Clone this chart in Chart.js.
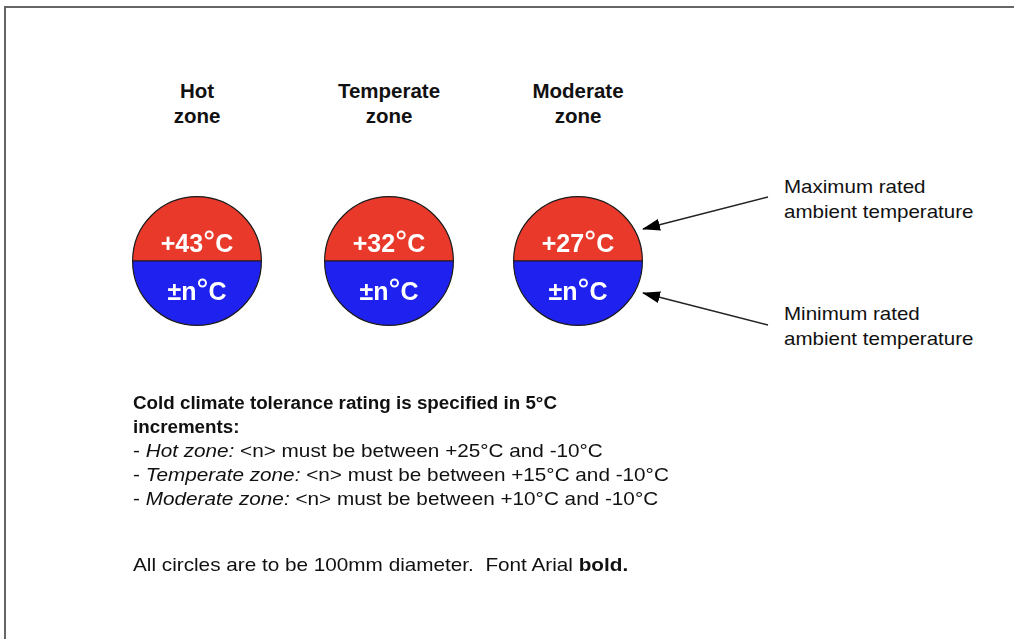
<!DOCTYPE html>
<html>
<head>
<meta charset="utf-8">
<script src="https://cdn.jsdelivr.net/npm/chart.js@4/dist/chart.umd.min.js"></script>
<style>
  html, body { margin: 0; padding: 0; background: #fff; }
  body { width: 1014px; height: 639px; position: relative; overflow: hidden;
         font-family: "Liberation Sans", Arial, sans-serif; color: #111; }
  .frame { position: absolute; left: 4px; top: 6px; width: 1020px; height: 700px;
           border-left: 2px solid #666; border-top: 2px solid #666; }
  .zone { position: absolute; width: 140px; height: 140px; }
  .head { position: absolute; width: 160px; text-align: center; font-weight: bold;
          font-size: 20.5px; line-height: 25px; top: 78px; }
  .side { position: absolute; left: 784px; font-size: 18.5px; line-height: 25px;
          transform: scaleX(1.11); transform-origin: left; }
  .notes { position: absolute; left: 133px; top: 391px; font-size: 18.8px; line-height: 24px; }
  .notes .r { display: inline-block; font-size: 18.5px; transform: scaleX(1.12); transform-origin: left; white-space: nowrap; }
  svg { position: absolute; left: 0; top: 0; }
</style>
</head>
<body>
<div class="frame"></div>

<div id="heads"></div>

<div class="zone" style="left:127px;top:191px"><canvas id="zone-0" width="140" height="140"></canvas></div>
<div class="zone" style="left:319px;top:191px"><canvas id="zone-1" width="140" height="140"></canvas></div>
<div class="zone" style="left:508px;top:191px"><canvas id="zone-2" width="140" height="140"></canvas></div>

<div class="side" style="top:174px">Maximum rated<br>ambient temperature</div>
<div class="side" style="top:301px">Minimum rated<br>ambient temperature</div>

<svg width="1014" height="639">
  <defs>
    <marker id="tip" markerWidth="18" markerHeight="12" refX="17" refY="6" orient="auto" markerUnits="userSpaceOnUse">
      <path d="M0,0 L18,6 L0,12 Z" fill="#000"/>
    </marker>
  </defs>
  <line x1="768" y1="197" x2="643" y2="229" stroke="#222" stroke-width="1.5" marker-end="url(#tip)"/>
  <line x1="768" y1="325" x2="643" y2="293" stroke="#222" stroke-width="1.5" marker-end="url(#tip)"/>
</svg>

<div class="notes">
  <b>Cold climate tolerance rating is specified in 5°C<br>increments:</b><br>
  <span class="r">- <i>Hot zone:</i> &lt;n&gt; must be between +25°C and -10°C</span><br>
  <span class="r">- <i>Temperate zone:</i> &lt;n&gt; must be between +15°C and -10°C</span><br>
  <span class="r">- <i>Moderate zone:</i> &lt;n&gt; must be between +10°C and -10°C</span><br>
  <br>
  <span class="r" style="position:relative;top:18px">All circles are to be 100mm diameter.&nbsp; Font Arial <b>bold.</b></span>
</div>

<script>
const ZONES = ['Hot', 'Temperate', 'Moderate'];
const MAX_TEMPS = ['+43', '+32', '+27'];
const MIN_TEMP = '±n';
const HALVES = [50, 50];
const HALF_COLORS = ['#e8392b', '#1f22ee'];
const HEAD_CENTERS = [197, 389, 578];

// zone headings
const heads = document.getElementById('heads');
ZONES.forEach((z, i) => {
  const d = document.createElement('div');
  d.className = 'head';
  d.style.left = (HEAD_CENTERS[i] - 80) + 'px';
  d.innerHTML = z + '<br>zone';
  heads.appendChild(d);
});

// draws "+43°C" style labels with a raised degree ring
function drawTemp(ctx, text, cx, cy) {
  ctx.font = 'bold 25px "Liberation Sans", Arial, sans-serif';
  ctx.fillStyle = '#fff';
  ctx.textBaseline = 'middle';
  ctx.textAlign = 'left';
  const w1 = ctx.measureText(text).width;
  const wc = ctx.measureText('C').width;
  const ringGap = 12;
  const total = w1 + ringGap + wc;
  let x = cx - total / 2;
  ctx.fillText(text, x, cy);
  x += w1;
  ctx.strokeStyle = '#fff';
  ctx.lineWidth = 2;
  ctx.beginPath();
  ctx.arc(x + 6, cy - 10, 3.5, 0, Math.PI * 2);
  ctx.stroke();
  ctx.fillText('C', x + ringGap, cy);
}

const labelPlugin = {
  id: 'zoneLabels',
  afterDraw(chart) {
    const { ctx } = chart;
    const arc = chart.getDatasetMeta(0).data[0];
    const idx = chart.options.zoneIndex;
    ctx.save();
    drawTemp(ctx, MAX_TEMPS[idx], arc.x, arc.y - 16);
    drawTemp(ctx, MIN_TEMP, arc.x, arc.y + 32);
    ctx.restore();
  },
};

ZONES.forEach((z, i) => {
  new Chart(document.getElementById('zone-' + i), {
    type: 'pie',
    data: {
      labels: ['Maximum', 'Minimum'],
      datasets: [{
        data: HALVES,
        backgroundColor: HALF_COLORS,
        borderColor: '#1a1a1a',
        borderWidth: 1.2,
        hoverOffset: 0,
      }],
    },
    options: {
      zoneIndex: i,
      responsive: false,
      animation: false,
      rotation: -90,
      layout: { padding: 5 },
      plugins: { legend: { display: false }, tooltip: { enabled: false } },
      events: [],
    },
    plugins: [labelPlugin],
  });
});
</script>
</body>
</html>
